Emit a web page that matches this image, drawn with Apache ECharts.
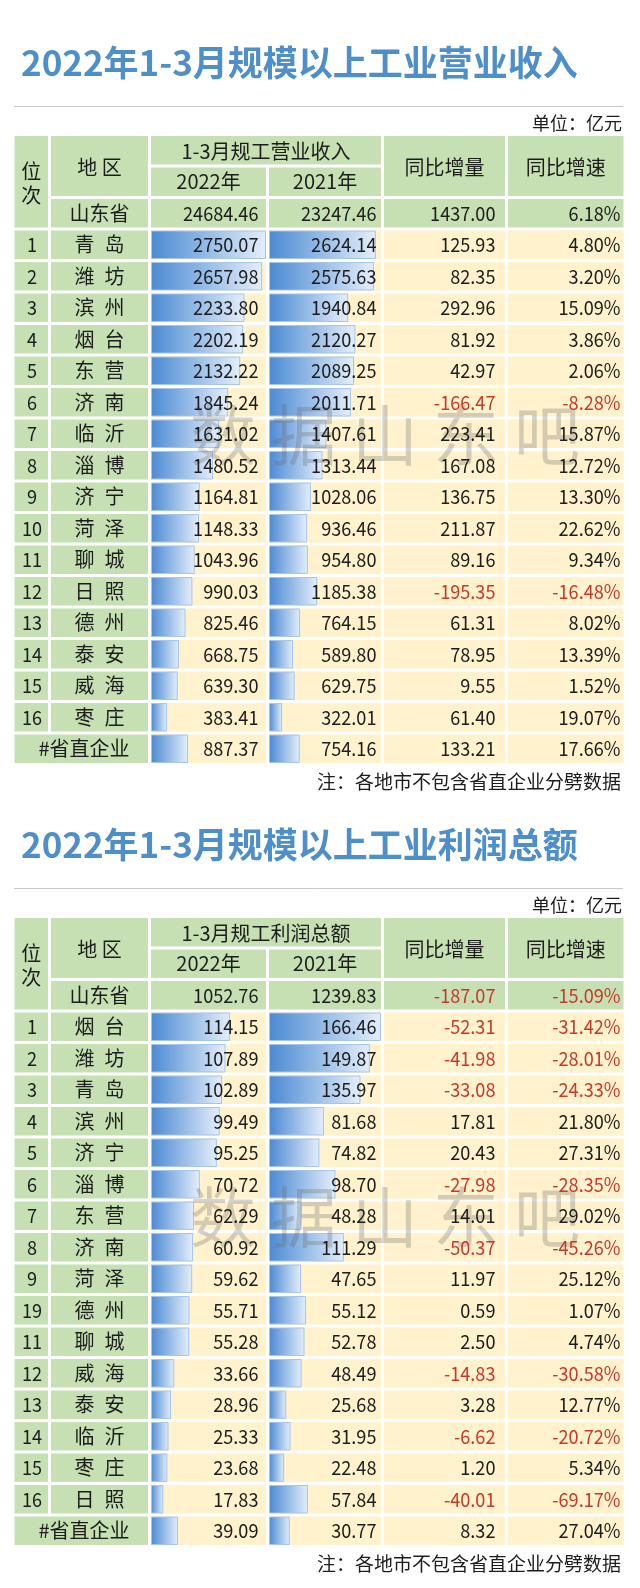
<!DOCTYPE html>
<html>
<head>
<meta charset="utf-8">
<title>2022年1-3月规模以上工业</title>
<script src="https://cdn.jsdelivr.net/npm/echarts@6/dist/echarts.min.js"></script>
<style>
html, body { margin: 0; padding: 0; background: #fff; }
#main { width: 640px; height: 1588px; }
</style>
</head>
<body>
<div id="main"></div>
<script>
// ---- 表1：营业收入 ----
var revTitle = '2022年1-3月规模以上工业营业收入';
var revGroup = '1-3月规工营业收入';
var revRanks = ['1', '2', '3', '4', '5', '6', '7', '8', '9', '10', '11', '12', '13', '14', '15', '16', ''];
var revCities = ['青岛', '潍坊', '滨州', '烟台', '东营', '济南', '临沂', '淄博', '济宁', '菏泽', '聊城', '日照', '德州', '泰安', '威海', '枣庄', '#省直企业'];
var rev2022 = [2750.07, 2657.98, 2233.80, 2202.19, 2132.22, 1845.24, 1631.02, 1480.52, 1164.81, 1148.33, 1043.96, 990.03, 825.46, 668.75, 639.30, 383.41, 887.37];
var rev2021 = [2624.14, 2575.63, 1940.84, 2120.27, 2089.25, 2011.71, 1407.61, 1313.44, 1028.06, 936.46, 954.80, 1185.38, 764.15, 589.80, 629.75, 322.01, 754.16];
var revDiff = [125.93, 82.35, 292.96, 81.92, 42.97, -166.47, 223.41, 167.08, 136.75, 211.87, 89.16, -195.35, 61.31, 78.95, 9.55, 61.40, 133.21];
var revRate = [4.80, 3.20, 15.09, 3.86, 2.06, -8.28, 15.87, 12.72, 13.30, 22.62, 9.34, -16.48, 8.02, 13.39, 1.52, 19.07, 17.66];
var revTotal = [24684.46, 23247.46, 1437.00, 6.18];

// ---- 表2：利润总额 ----
var profTitle = '2022年1-3月规模以上工业利润总额';
var profGroup = '1-3月规工利润总额';
var profRanks = ['1', '2', '3', '4', '5', '6', '7', '8', '9', '19', '11', '12', '13', '14', '15', '16', ''];
var profCities = ['烟台', '潍坊', '青岛', '滨州', '济宁', '淄博', '东营', '济南', '菏泽', '德州', '聊城', '威海', '泰安', '临沂', '枣庄', '日照', '#省直企业'];
var prof2022 = [114.15, 107.89, 102.89, 99.49, 95.25, 70.72, 62.29, 60.92, 59.62, 55.71, 55.28, 33.66, 28.96, 25.33, 23.68, 17.83, 39.09];
var prof2021 = [166.46, 149.87, 135.97, 81.68, 74.82, 98.70, 48.28, 111.29, 47.65, 55.12, 52.78, 48.49, 25.68, 31.95, 22.48, 57.84, 30.77];
var profDiff = [-52.31, -41.98, -33.08, 17.81, 20.43, -27.98, 14.01, -50.37, 11.97, 0.59, 2.50, -14.83, 3.28, -6.62, 1.20, -40.01, 8.32];
var profRate = [-31.42, -28.01, -24.33, 21.80, 27.31, -28.35, 29.02, -45.26, 25.12, 1.07, 4.74, -30.58, 12.77, -20.72, 5.34, -69.17, 27.04];
var profTotal = [1052.76, 1239.83, -187.07, -15.09];

var yearLabels = ['2022年', '2021年'];
var headRank = '位\n次';
var headCity = '地 区';
var headDiff = '同比增量';
var headRate = '同比增速';
var totalName = '山东省';
var unitText = '单位：亿元';
var noteText = '注：各地市不包含省直企业分劈数据';
var markChars = ['数', '据', '山', '东', '吧'];

// 版式
var COLS = [13, 49.5, 149.5, 267.5, 382.5, 506.5, 625];
var RH = 31.5;
var PAD = 1.5;
var NUM_RIGHT = [258.5, 376.5, 495.5, 620.5];
var GREEN = '#c6e0b4';
var CREAM = '#fff2cc';
var RED = '#c9392b';
var INK = '#1c1c1c';
var FONT = '"Noto Sans CJK SC", "Noto Sans", sans-serif';
var NUM = { size: 19.5, align: 'right', sx: 0.93 };

var graphics = [];
var grids = [];
var xAxes = [];
var yAxes = [];
var series = [];

function rect(c0, c1, r0, r1, top, fill) {
  return {
    type: 'rect', z: 0, silent: true,
    shape: {
      x: COLS[c0] + PAD,
      y: top + r0 * RH + PAD,
      width: COLS[c1 + 1] - COLS[c0] - 2 * PAD,
      height: (r1 - r0 + 1) * RH - 2 * PAD
    },
    style: { fill: fill }
  };
}

function text(x, y, s, o) {
  o = o || {};
  return {
    type: 'text', z: o.z || 10, silent: true,
    x: x, y: y, scaleX: o.sx || 1,
    style: {
      text: s,
      fontSize: o.size || 20,
      fontFamily: FONT,
      fontWeight: o.weight || 'normal',
      fill: o.color || INK,
      align: o.align || 'center',
      verticalAlign: 'middle',
      lineHeight: o.lineHeight
    }
  };
}

function num(x, y, s, neg) {
  return text(x, y, s, { size: NUM.size, align: NUM.align, sx: NUM.sx, color: neg ? RED : INK });
}

function fmt(v) { return v.toFixed(2); }
function pct(v) { return v.toFixed(2) + '%'; }
function spaced(name) { return name.length === 2 ? name[0] + '\u2002' + name[1] : name; }
function colCenter(c0, c1) { return (COLS[c0] + COLS[c1 + 1]) / 2; }

function buildTable(top, d) {
  var rowMid = function (r) { return top + r * RH + RH / 2; };

  graphics.push(text(21, top - 72, d.title, { size: 35, weight: 'bold', color: '#4e8fca', align: 'left' }));
  graphics.push({
    type: 'line', z: 0, silent: true,
    shape: { x1: 14, y1: top - 28, x2: 623, y2: top - 28 },
    style: { stroke: '#c8c8c8', lineWidth: 1 }
  });
  graphics.push(text(622, top - 11.5, unitText, { size: 18, align: 'right' }));

  // 表头
  graphics.push(rect(0, 0, 0, 2, top, GREEN));
  graphics.push(rect(1, 1, 0, 1, top, GREEN));
  graphics.push(rect(2, 3, 0, 0, top, GREEN));
  graphics.push(rect(2, 2, 1, 1, top, GREEN));
  graphics.push(rect(3, 3, 1, 1, top, GREEN));
  graphics.push(rect(4, 4, 0, 1, top, GREEN));
  graphics.push(rect(5, 5, 0, 1, top, GREEN));
  graphics.push(text(colCenter(0, 0), top + 49, headRank, { lineHeight: 24 }));
  graphics.push(text(colCenter(1, 1), top + RH + 1, headCity));
  graphics.push(text(colCenter(2, 3), rowMid(0) + 1, d.group));
  graphics.push(text(colCenter(2, 2), rowMid(1), yearLabels[0]));
  graphics.push(text(colCenter(3, 3), rowMid(1), yearLabels[1]));
  graphics.push(text(colCenter(4, 4), top + RH + 1, headDiff));
  graphics.push(text(colCenter(5, 5), top + RH + 1, headRate));

  // 全省合计
  for (var c = 1; c <= 5; c++) graphics.push(rect(c, c, 2, 2, top, GREEN));
  graphics.push(text(colCenter(1, 1), rowMid(2), totalName));
  var tot = [fmt(d.total[0]), fmt(d.total[1]), fmt(d.total[2]), pct(d.total[3])];
  for (var k = 0; k < 4; k++) {
    graphics.push(num(NUM_RIGHT[k], rowMid(2), tot[k], k >= 2 && d.total[k] < 0));
  }

  // 各市
  for (var i = 0; i < d.cities.length; i++) {
    var r = i + 3;
    var y = rowMid(r);
    if (d.ranks[i] === '') {
      graphics.push(rect(0, 1, r, r, top, GREEN));
      graphics.push(text(84, y, d.cities[i]));
    } else {
      graphics.push(rect(0, 0, r, r, top, GREEN));
      graphics.push(rect(1, 1, r, r, top, GREEN));
      graphics.push(text(32, y, d.ranks[i], { size: 19.5, sx: 0.93 }));
      graphics.push(text(colCenter(1, 1), y, spaced(d.cities[i])));
    }
    for (var c2 = 2; c2 <= 5; c2++) graphics.push(rect(c2, c2, r, r, top, CREAM));
    graphics.push(num(NUM_RIGHT[0], y, fmt(d.v22[i]), false));
    graphics.push(num(NUM_RIGHT[1], y, fmt(d.v21[i]), false));
    graphics.push(num(NUM_RIGHT[2], y, fmt(d.diff[i]), d.diff[i] < 0));
    graphics.push(num(NUM_RIGHT[3], y, pct(d.rate[i]), d.rate[i] < 0));
  }

  graphics.push(text(621, top + 20 * RH + 17.5, noteText, { size: 19, align: 'right' }));

  // 水印
  for (var m = 0; m < markChars.length; m++) {
    graphics.push(text(223 + m * 81, top + 300, markChars[m], { size: 66, color: 'rgba(100,100,100,0.28)', z: 5 }));
  }

  // 数据条：两列共用同一最大值
  var maxAll = Math.max.apply(null, d.v22.concat(d.v21));
  [d.v22, d.v21].forEach(function (vals, j) {
    var gi = grids.length;
    var c = 2 + j;
    grids.push({
      left: COLS[c] + PAD,
      top: top + 3 * RH,
      width: COLS[c + 1] - COLS[c] - 2 * PAD,
      height: d.cities.length * RH
    });
    xAxes.push({ gridIndex: gi, type: 'value', min: 0, max: maxAll, show: false });
    yAxes.push({ gridIndex: gi, type: 'category', inverse: true, data: d.cities, show: false });
    series.push({
      type: 'bar',
      xAxisIndex: gi,
      yAxisIndex: gi,
      z: 3,
      silent: true,
      barWidth: RH - 2 * PAD,
      data: vals,
      itemStyle: {
        color: new echarts.graphic.LinearGradient(0, 0, 1, 0, [
          { offset: 0, color: '#4b8ad3' },
          { offset: 1, color: '#e4eefa' }
        ]),
        borderColor: '#a7c4ea',
        borderWidth: 1
      }
    });
  });
}

buildTable(134.5, {
  title: revTitle, group: revGroup, ranks: revRanks, cities: revCities,
  v22: rev2022, v21: rev2021, diff: revDiff, rate: revRate, total: revTotal
});
buildTable(916.5, {
  title: profTitle, group: profGroup, ranks: profRanks, cities: profCities,
  v22: prof2022, v21: prof2021, diff: profDiff, rate: profRate, total: profTotal
});

var chart = echarts.init(document.getElementById('main'), null, { renderer: 'canvas' });
chart.setOption({
  backgroundColor: '#ffffff',
  animation: false,
  grid: grids,
  xAxis: xAxes,
  yAxis: yAxes,
  series: series,
  graphic: { elements: graphics }
});
</script>
</body>
</html>
